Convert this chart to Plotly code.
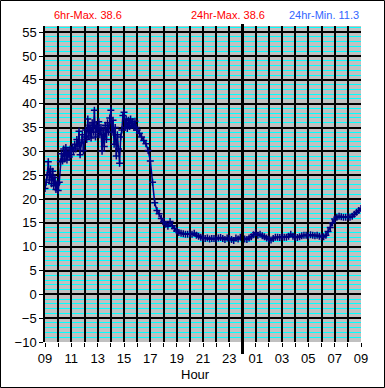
import plotly.graph_objects as go

# ---- data ----
# 09:00-16:00 at 5-minute steps
temps_day = [
    22.2, 23.5, 25.0, 27.8, 24.0, 26.3, 23.2, 25.8, 22.8, 24.5, 22.0, 23.2,
    21.8, 23.5, 27.8, 29.5, 28.0, 30.5, 28.4, 30.8, 28.2, 29.8, 28.8, 30.5,
    29.3, 30.8, 30.2, 31.5, 30.5, 32.5, 31.0, 34.2, 29.3, 31.8, 33.5, 30.2,
    33.0, 34.5, 32.5, 36.8, 33.2, 35.5, 32.8, 36.0, 34.0, 38.6, 33.0, 35.5,
    34.0, 36.2, 33.5, 35.0, 30.0, 34.5, 31.0, 35.5, 32.5, 36.0, 34.0, 37.0,
    38.6, 34.0, 36.5, 31.5, 35.0, 29.0, 33.5, 30.5, 27.5, 33.0, 34.5, 37.5,
    38.2, 35.0, 36.8, 34.8, 36.5, 35.2, 36.8, 35.5, 36.2, 35.0, 36.3, 35.0,
    34.5,
]
# 16:10-09:00 next day at 10-minute steps
temps_night = [
    33.8, 33.0, 32.3, 31.6, 30.2,
    28.0, 23.5, 19.2, 17.6, 16.9, 15.9,
    15.2, 14.7, 14.3, 15.3, 14.4, 13.8,
    13.3, 13.0, 12.8, 12.7, 12.6, 12.6,
    12.7, 12.6, 12.8, 12.4, 12.2, 12.0,
    11.8, 11.7, 11.8, 11.6, 11.7, 11.7,
    11.6, 11.8, 11.9, 11.7, 11.5, 11.8,
    11.7, 11.5, 11.3, 11.8, 11.6, 12.0,
    11.7, 11.6, 11.5, 11.8, 12.1, 12.5,
    12.9, 12.4, 12.6, 12.3, 12.1, 11.8,
    11.6, 11.4, 11.7, 12.0, 12.0, 11.9,
    12.1, 12.0, 12.0, 12.2, 12.6, 12.2,
    12.0, 11.9, 12.1, 12.3, 12.4, 12.4,
    12.3, 12.5, 12.4, 12.3, 12.4, 12.2,
    12.1, 12.1, 12.4, 13.2, 14.0, 15.0,
    15.8, 16.2, 16.4, 16.3, 16.2, 16.2,
    16.3, 16.2, 16.4, 16.8, 17.2, 17.6,
    18.0,
]
minutes_day = list(range(0, 421, 5))
minutes_night = list(range(430, 1441, 10))

hour_labels = ["09", "", "11", "", "13", "", "15", "", "17", "", "19", "", "21", "",
               "23", "", "01", "", "03", "", "05", "", "07", "", "09"]
title_6hr = "6hr-Max. 38.6"
title_24max = "24hr-Max. 38.6"
title_24min = "24hr-Min. 11.3"

x_hours = [m / 60 for m in minutes_day + minutes_night]
y_temps = temps_day + temps_night

W, H = 385, 388
ML, MR, MT, MB = 45, 24, 26, 46
pw, ph = W - ML - MR, H - MT - MB

fig = go.Figure()
fig.add_trace(go.Scatter(
    x=x_hours, y=y_temps, mode="lines+markers",
    line=dict(color="#000080", width=1.5),
    marker=dict(symbol="cross-thin", size=5, line=dict(color="#000080", width=1.5)),
    hoverinfo="skip", showlegend=False,
))

font = "Liberation Sans, Arial, sans-serif"
fig.update_layout(
    width=W, height=H,
    margin=dict(l=ML, r=MR, t=MT, b=MB),
    paper_bgcolor="white", plot_bgcolor="#C0C0C0",
    font=dict(family=font, size=13, color="black"),
    xaxis=dict(
        range=[0, 24], tickvals=list(range(25)), ticktext=hour_labels,
        showgrid=True, gridcolor="black", gridwidth=1.5,
        ticks="outside", ticklen=4, tickcolor="black", tickwidth=1,
        showline=False, zeroline=False, tickfont=dict(size=13),
    ),
    yaxis=dict(
        range=[-10, 56.3], tick0=-10, dtick=5,
        showgrid=True, gridcolor="black", gridwidth=1.5,
        minor=dict(dtick=1, tick0=0, showgrid=True, gridcolor="#00FFFF", gridwidth=1),
        ticks="outside", ticklen=4, tickcolor="black", tickwidth=1,
        showline=True, linecolor="black", linewidth=1.5,
        zeroline=False, tickfont=dict(size=13),
    ),
    shapes=[
        dict(type="line", xref="x", yref="paper", x0=15, x1=15,
             y0=-(12 / ph), y1=1 + 2 / ph, line=dict(color="black", width=3)),
        dict(type="rect", xref="paper", yref="paper",
             x0=-(ML - 0.5) / pw, x1=1 + (MR - 0.5) / pw,
             y0=-(MB - 0.5) / ph, y1=1 + (MT - 0.5) / ph,
             line=dict(color="black", width=1)),
    ],
    annotations=[
        dict(text=title_6hr, xref="paper", yref="paper", x=(88 - ML) / pw, y=1 + (MT - 15) / ph,
             showarrow=False, font=dict(color="#FF0000", size=11), xanchor="center", yanchor="middle"),
        dict(text=title_24max, xref="paper", yref="paper", x=(228 - ML) / pw, y=1 + (MT - 15) / ph,
             showarrow=False, font=dict(color="#FF0000", size=11), xanchor="center", yanchor="middle"),
        dict(text=title_24min, xref="paper", yref="paper", x=(324 - ML) / pw, y=1 + (MT - 15) / ph,
             showarrow=False, font=dict(color="#3366FF", size=11), xanchor="center", yanchor="middle"),
        dict(text="Hour", xref="paper", yref="paper", x=(195 - ML) / pw, y=-(374 - (H - MB)) / ph,
             showarrow=False, font=dict(color="black", size=13), xanchor="center", yanchor="middle"),
    ],
)

fig.write_html(
    "out.html",
    config={"displayModeBar": False},
    post_script="document.body.style.margin='0';document.body.style.padding='0';",
)
